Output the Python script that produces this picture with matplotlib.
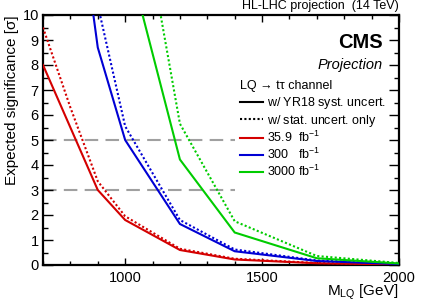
import matplotlib
matplotlib.use("Agg")
import matplotlib.pyplot as plt
from matplotlib.lines import Line2D
from matplotlib.ticker import MultipleLocator

plt.rcParams['font.family'] = ['Liberation Sans', 'DejaVu Sans']
plt.rcParams['mathtext.fontset'] = 'custom'
plt.rcParams['mathtext.rm'] = 'Liberation Sans'
plt.rcParams['mathtext.it'] = 'Liberation Sans:italic'

# ---- data ----
mass = [700, 800, 900, 1000, 1200, 1400, 1700, 2000]
sig_36_syst = [8.0, 5.5, 3.0, 1.8, 0.6, 0.22, 0.07, 0.02]
sig_36_stat = [9.5, 6.3, 3.35, 1.95, 0.65, 0.25, 0.08, 0.03]
sig_300_syst = [25.0, 16.8, 8.7, 5.0, 1.64, 0.55, 0.16, 0.04]
sig_300_stat = [30.0, 19.0, 10.4, 5.55, 1.8, 0.62, 0.18, 0.05]
sig_3000_syst = [25.0, 19.0, 16.0, 12.7, 4.22, 1.3, 0.27, 0.06]
sig_3000_stat = [35.0, 28.0, 23.0, 18.0, 5.65, 1.75, 0.36, 0.08]

ref_levels = [3, 5]
ref_xrange = [700, 1400]

series_labels = ["35.9  fb$^{-1}$", "300   fb$^{-1}$", "3000 fb$^{-1}$"]
colors = ['#d40000', '#0000d4', '#00cc00']

fig = plt.figure(figsize=(4.25, 3.05), dpi=100)
ax = fig.add_axes([43/425, 1-265/305, (399-43)/425, (265-15)/305])

for lvl in ref_levels:
    ax.plot(ref_xrange, [lvl, lvl], color='#a0a0a0', lw=1.5,
            linestyle=(0, (6.5, 3.5)), zorder=1)

data = [(sig_36_syst, sig_36_stat), (sig_300_syst, sig_300_stat),
        (sig_3000_syst, sig_3000_stat)]
for (s, st), c in zip(data, colors):
    ax.plot(mass, s, color=c, lw=1.5, solid_joinstyle='miter', zorder=3)
    ax.plot(mass, st, color=c, lw=1.5, linestyle=(0, (1, 1.1)), zorder=3)

ax.set_xlim(700, 2000)
ax.set_ylim(0, 10)

ax.xaxis.set_major_locator(MultipleLocator(500))
ax.xaxis.set_minor_locator(MultipleLocator(100))
ax.yaxis.set_major_locator(MultipleLocator(1))
ax.yaxis.set_minor_locator(MultipleLocator(0.5))

ax.tick_params(axis='both', which='both', direction='in', top=True, right=True,
               labelsize=10.5, width=1, color='black')
ax.tick_params(axis='x', which='major', length=7.5/1.389, pad=4)
ax.tick_params(axis='x', which='minor', length=3.8/1.389)
ax.tick_params(axis='y', which='major', length=10.5/1.389, pad=3)
ax.tick_params(axis='y', which='minor', length=5.2/1.389)
for sp in ax.spines.values():
    sp.set_linewidth(1.6)

ax.set_xlabel("M$_{\\mathrm{LQ}}$ [GeV]", fontsize=11, ha='right', x=1.0)
ax.xaxis.set_label_coords(1.0, -0.072)
ax.set_ylabel("Expected significance [σ]", fontsize=11, ha='right', y=1.0)
ax.yaxis.set_label_coords(-0.068, 1.0)

ax.text(1.0, 1.01, "HL-LHC projection  (14 TeV)", transform=ax.transAxes,
        ha='right', va='bottom', fontsize=9)
ax.text(0.953, 0.888, "CMS", transform=ax.transAxes, ha='right', va='center',
        fontsize=14.5, fontweight='bold')
ax.text(0.953, 0.8, "Projection", transform=ax.transAxes, ha='right',
        va='center', fontsize=10.5, style='italic')

handles = [Line2D([], [], color='black', lw=1.5),
           Line2D([], [], color='black', lw=1.5, linestyle=(0, (1, 1.1)))]
handles += [Line2D([], [], color=c, lw=1.5) for c in colors]
labels = ["w/ YR18 syst. uncert.$\\mathregular{^{\\,}}$",
          "w/ stat. uncert. only$\\mathregular{^{\\,}}$"] + series_labels
leg = ax.legend(handles, labels, title="LQ → tτ channel", alignment='left',
                loc='upper left', bbox_to_anchor=(0.552, 0.738), frameon=False,
                fontsize=9, title_fontsize=9, handlelength=1.85,
                handletextpad=0.35, labelspacing=0.12, borderpad=0,
                borderaxespad=0)
leg._legend_box.sep = 2

fig.savefig("out.png", dpi=100)
